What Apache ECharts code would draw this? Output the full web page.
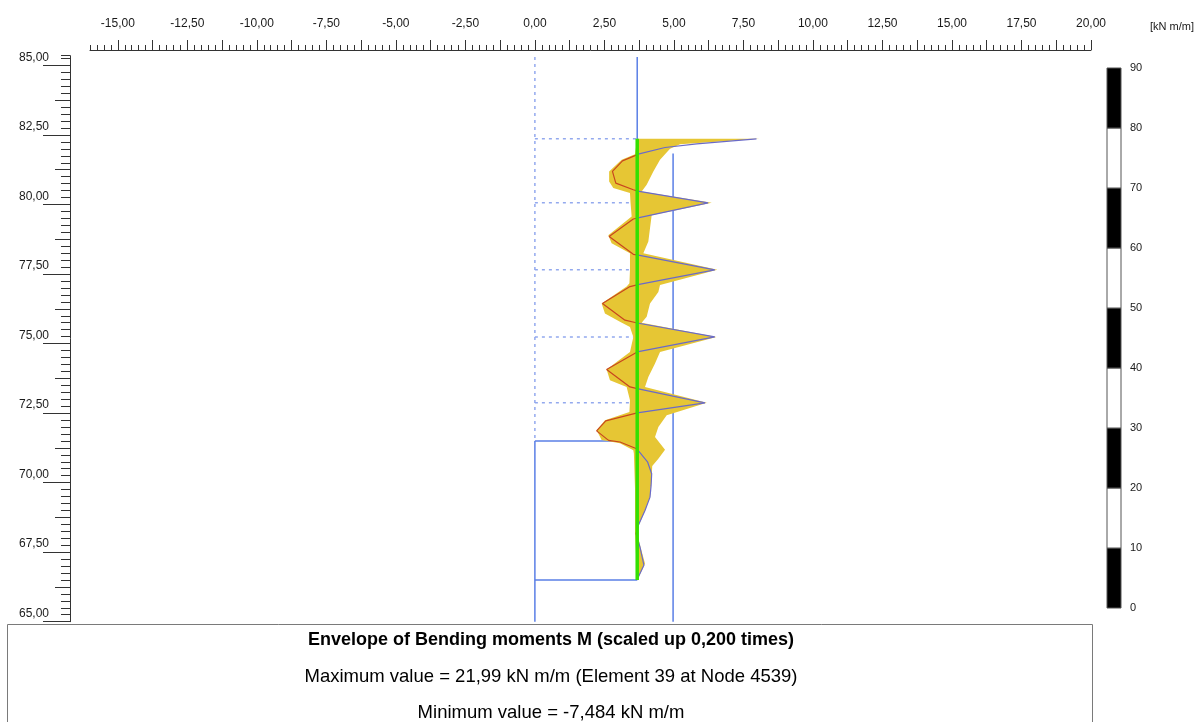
<!DOCTYPE html>
<html><head><meta charset="utf-8">
<script src="https://cdn.jsdelivr.net/npm/echarts@6/dist/echarts.min.js"></script>
<style>html,body{margin:0;padding:0;background:#fff}#c{width:1197px;height:722px}</style>
</head><body><div id="c"></div>
<script>
// ---- axis ticks / labels ----
const xLabelTicks = [-15, -12.5, -10, -7.5, -5, -2.5, 0, 2.5, 5, 7.5, 10, 12.5, 15, 17.5, 20];
const xMidTicks = [-15, -13.75, -12.5, -11.25, -10, -8.75, -7.5, -6.25, -5, -3.75, -2.5, -1.25, 0,
  1.25, 2.5, 3.75, 5, 6.25, 7.5, 8.75, 10, 11.25, 12.5, 13.75, 15, 16.25, 17.5, 18.75, 20];
const yLabelTicks = [65, 67.5, 70, 72.5, 75, 77.5, 80, 82.5, 85];
const yMidTicks = [66.25, 68.75, 71.25, 73.75, 76.25, 78.75, 81.25, 83.75];
const scaleTicks = [0, 10, 20, 30, 40, 50, 60, 70, 80, 90];
const scaleBlocks = [[0, 10], [10, 20], [20, 30], [30, 40], [40, 50], [50, 60], [60, 70], [70, 80], [80, 90]];

// ---- bending moment line (plotted position) ----
const mLine = [
  [7.97, 82.36], [5.82, 82.18], [4.68, 82.05], [3.75, 81.82], [3.15, 81.57], [2.79, 81.19], [2.91, 80.77],
  [3.54, 80.53], [3.70, 80.48], [6.23, 80.06], [3.75, 79.53], [3.54, 79.48], [2.67, 78.85], [3.54, 78.21],
  [3.72, 78.18], [6.47, 77.65], [3.75, 77.13], [3.42, 77.05], [2.43, 76.44], [3.24, 75.84], [3.68, 75.74],
  [6.47, 75.24], [3.68, 74.70], [2.58, 74.07], [3.42, 73.44], [3.68, 73.38], [6.12, 72.87], [3.68, 72.51],
  [2.55, 72.22], [2.22, 71.86], [2.65, 71.52], [3.06, 71.46], [3.66, 71.22], [3.70, 71.16], [4.05, 70.75],
  [4.20, 70.32], [4.18, 69.90], [4.14, 69.48], [3.96, 69.00], [3.72, 68.47], [3.64, 68.17], [3.78, 67.68],
  [3.92, 67.03], [3.72, 66.61], [3.68, 66.50]
];
// ---- envelope edges ----
const envMin = [
  [3.68, 82.36], [3.60, 81.81], [3.12, 81.61], [2.67, 81.19], [2.67, 80.83], [2.82, 80.59], [3.42, 80.41],
  [3.44, 80.06], [3.48, 79.57], [2.64, 78.89], [2.76, 78.61], [3.42, 78.25], [3.42, 77.65], [3.40, 77.17],
  [3.30, 77.05], [2.40, 76.44], [2.52, 76.08], [3.06, 75.78], [3.42, 75.60], [3.54, 75.24], [3.42, 74.70],
  [2.58, 74.07], [2.70, 73.68], [3.30, 73.44], [3.42, 72.96], [3.40, 72.54], [2.52, 72.24], [2.22, 71.88],
  [2.40, 71.53], [3.06, 71.42], [3.54, 71.16], [3.56, 71.05], [3.60, 69.80], [3.60, 68.20], [3.66, 66.90],
  [3.68, 66.50]
];
const envMax = [
  [8.09, 82.36], [5.22, 82.17], [4.86, 82.00], [4.50, 81.61], [4.26, 81.19], [4.02, 80.71], [3.84, 80.47],
  [6.36, 80.06], [4.20, 79.61], [4.14, 79.15], [4.08, 78.67], [3.90, 78.25], [6.56, 77.65], [4.50, 77.11],
  [4.44, 76.85], [4.14, 76.44], [4.02, 75.96], [3.84, 75.75], [6.53, 75.24], [4.50, 74.70], [4.32, 74.28],
  [4.08, 73.80], [3.96, 73.44], [6.18, 72.87], [4.74, 72.42], [4.44, 72.00], [4.32, 71.64], [4.68, 71.18],
  [4.44, 70.86], [4.22, 70.60], [4.20, 70.20], [4.14, 69.48], [3.96, 69.00], [3.74, 68.47], [3.68, 68.17],
  [3.80, 67.68], [3.96, 67.09], [3.74, 66.61], [3.68, 66.50]
];
// ---- geometry ----
const wallX = 3.68, wallTop = 82.36, wallBottom = 66.50;
const excavationLevels = [82.36, 80.06, 77.65, 75.24, 72.87];
const leftX = 0, topY = 85.3, bottomY = 65.0, soilTop = 71.50;
const rightLineX = 4.97, rightLineTop = 81.83;

const fmt = v => v.toFixed(2).replace('.', ',');
const LINE_BLUE = '#5a7fe6', DOT_BLUE = '#93a9ee';
const NEG_COLOR = '#c8461e', POS_COLOR = '#6a6ac8';
const txt = '#1a1a1a';
const FONT = 'Liberation Sans, Arial, sans-serif';

const chart = echarts.init(document.getElementById('c'), null, {renderer: 'canvas'});

const geomSolid = [
  [[wallX, topY], [wallX, wallBottom]],
  [[rightLineX, rightLineTop], [rightLineX, bottomY]],
  [[leftX, soilTop], [leftX, bottomY]],
  [[leftX, soilTop], [wallX, soilTop]],
  [[leftX, wallBottom], [wallX, wallBottom]]
];
const geomDotted = [[[leftX, topY], [leftX, soilTop]]].concat(
  excavationLevels.map(l => [[leftX, l], [wallX, l]]));

const series = [];
geomDotted.forEach(seg => series.push({
  type: 'line', xAxisIndex: 0, yAxisIndex: 0, data: seg, symbol: 'none', silent: true, z: 1,
  lineStyle: {color: DOT_BLUE, width: 1.5, type: [3, 4]}
}));
geomSolid.forEach(seg => series.push({
  type: 'line', xAxisIndex: 0, yAxisIndex: 0, data: seg, symbol: 'none', silent: true, z: 1,
  lineStyle: {color: LINE_BLUE, width: 1.5}
}));
series.push({
  type: 'custom', xAxisIndex: 0, yAxisIndex: 0, data: [[wallX, wallTop]], silent: true, z: 2,
  renderItem: (p, api) => ({
    type: 'polygon',
    shape: {points: envMin.concat(envMax.slice().reverse()).map(pt => api.coord(pt))},
    style: {fill: '#e6c634'}
  })
});
const mIndex = series.length;
series.push({
  id: 'mline', type: 'line', xAxisIndex: 0, yAxisIndex: 0, data: mLine, symbol: 'none', silent: true, z: 4,
  lineStyle: {width: 1.2, color: POS_COLOR}
});
series.push({
  type: 'line', xAxisIndex: 0, yAxisIndex: 0, data: [[wallX, wallTop], [wallX, wallBottom]],
  symbol: 'none', silent: true, z: 5, lineStyle: {color: '#33e000', width: 3.5}
});
// scale bar
series.push({
  type: 'custom', xAxisIndex: 3, yAxisIndex: 3, data: scaleBlocks, silent: true, z: 2,
  encode: {x: -1, y: [0, 1]},
  renderItem: (p, api) => {
    const a = api.coord([0, api.value(1)]);
    const b = api.coord([1, api.value(0)]);
    return {type: 'rect', shape: {x: a[0], y: a[1], width: b[0] - a[0], height: b[1] - a[1]},
      style: {fill: p.dataIndex % 2 === 0 ? '#000' : '#fff', stroke: '#555', lineWidth: 1}};
  }
});

const axisCommon = {type: 'value', splitLine: {show: false}};
const option = {
  animation: false,
  backgroundColor: '#fff',
  grid: [
    {left: 90, right: 106, top: 55.7, bottom: 100.3},
    {left: 1107, width: 14, top: 68, height: 540}
  ],
  xAxis: [
    Object.assign({}, axisCommon, {gridIndex: 0, min: -16, max: 20, interval: 0.25, position: 'top', offset: 5.7,
      axisLine: {show: true, onZero: false, lineStyle: {color: '#333', width: 1}},
      axisTick: {show: true, length: 5, lineStyle: {color: '#333'}},
      axisLabel: {show: false}}),
    Object.assign({}, axisCommon, {gridIndex: 0, min: -16, max: 20, position: 'top', offset: 5.7,
      axisLine: {show: false, onZero: false},
      axisTick: {show: true, length: 10, customValues: xMidTicks, lineStyle: {color: '#333'}},
      axisLabel: {show: true, customValues: xLabelTicks, formatter: fmt, margin: 20,
        color: txt, fontSize: 12, fontFamily: FONT}}),
    Object.assign({}, axisCommon, {gridIndex: 0, min: -16, max: 20, show: false, axisLine: {onZero: false}}),
    {type: 'value', gridIndex: 1, min: 0, max: 1, show: false, axisLine: {onZero: false}}
  ],
  yAxis: [
    Object.assign({}, axisCommon, {gridIndex: 0, min: 65, max: 85.35, interval: 0.25, position: 'left', offset: 20,
      axisLine: {show: true, onZero: false, lineStyle: {color: '#333', width: 1}},
      axisTick: {show: true, length: 9, lineStyle: {color: '#333'}},
      axisLabel: {show: false}}),
    Object.assign({}, axisCommon, {gridIndex: 0, min: 65, max: 85.35, position: 'left', offset: 20,
      axisLine: {show: false, onZero: false},
      axisTick: {show: true, length: 15, customValues: yMidTicks, lineStyle: {color: '#333'}},
      axisLabel: {show: false}}),
    Object.assign({}, axisCommon, {gridIndex: 0, min: 65, max: 85.35, position: 'left', offset: 20,
      axisLine: {show: false, onZero: false},
      axisTick: {show: true, length: 27, customValues: yLabelTicks, lineStyle: {color: '#333'}},
      axisLabel: {show: true, customValues: yLabelTicks, formatter: fmt, margin: 21, verticalAlign: 'bottom',
        padding: [0, 0, 2, 0], color: txt, fontSize: 12, fontFamily: FONT}}),
    {type: 'value', gridIndex: 1, min: 0, max: 90, interval: 10, position: 'right',
      splitLine: {show: false}, axisLine: {show: false, onZero: false}, axisTick: {show: false},
      axisLabel: {show: true, margin: 9, color: txt, fontSize: 11, padding: [0, 0, 4, 0], fontFamily: FONT}}
  ],
  graphic: [
    {type: 'text', x: 1150, y: 27, style: {text: '[kN m/m]', fill: txt, font: '11px "Liberation Sans", Arial',
      textAlign: 'left', textVerticalAlign: 'middle'}},
    {type: 'rect', shape: {x: 7.5, y: 624.5, width: 1085, height: 120},
      style: {fill: 'none', stroke: '#7a7a7a', lineWidth: 1}},
    {type: 'text', x: 551, y: 640, style: {text: 'Envelope of Bending moments M (scaled up 0,200 times)',
      fill: '#000', font: 'bold 18px "Liberation Sans", Arial', textAlign: 'center', textVerticalAlign: 'middle'}},
    {type: 'text', x: 551, y: 677, style: {text: 'Maximum value = 21,99 kN m/m (Element 39 at Node 4539)',
      fill: '#000', font: '18.5px "Liberation Sans", Arial', textAlign: 'center', textVerticalAlign: 'middle'}},
    {type: 'text', x: 551, y: 713, style: {text: 'Minimum value = -7,484 kN m/m',
      fill: '#000', font: '18.5px "Liberation Sans", Arial', textAlign: 'center', textVerticalAlign: 'middle'}}
  ],
  series: series
};
chart.setOption(option);

// colour the moment line by sign: red left of the wall axis, blue right of it
const wallPx = chart.convertToPixel({xAxisIndex: 0}, wallX);
chart.setOption({
  series: [{id: 'mline', lineStyle: {color: new echarts.graphic.LinearGradient(wallPx - 0.5, 0, wallPx + 0.5, 0, [
    {offset: 0, color: NEG_COLOR}, {offset: 0.5, color: NEG_COLOR},
    {offset: 0.5, color: POS_COLOR}, {offset: 1, color: POS_COLOR}], true)}}]
});
</script>
</body></html>
